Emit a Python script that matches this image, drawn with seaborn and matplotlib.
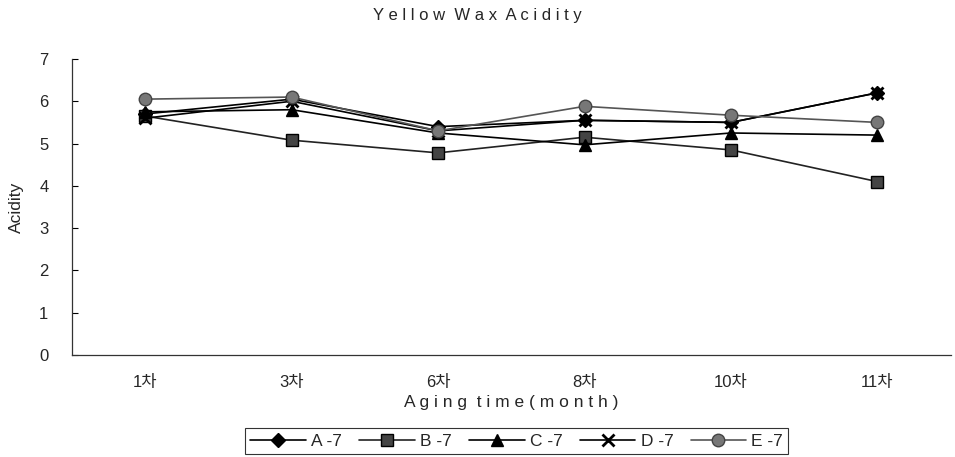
import matplotlib
matplotlib.use("Agg")
import matplotlib.pyplot as plt
import seaborn as sns
import pandas as pd
import numpy as np

categories = ["1차", "3차", "6차", "8차", "10차", "11차"]
a7 = [5.70, 6.05, 5.40, 5.55, 5.50, 6.20]
b7 = [5.65, 5.08, 4.78, 5.15, 4.85, 4.10]
c7 = [5.75, 5.80, 5.25, 4.97, 5.25, 5.20]
d7 = [5.60, 6.00, 5.30, 5.55, 5.50, 6.20]
e7 = [6.05, 6.10, 5.30, 5.88, 5.67, 5.50]
series_names = ["A-7", "B-7", "C-7", "D-7", "E-7"]
legend_labels = ["A -7", "B -7", "C -7", "D -7", "E -7"]

sns.set_theme(style="white")
plt.rcParams['font.family'] = ['Liberation Sans', 'Noto Sans CJK KR', 'DejaVu Sans']

rows = []
for name, vals in zip(series_names, [a7, b7, c7, d7, e7]):
    for i, v in enumerate(vals):
        rows.append({"x": i, "cat": categories[i], "series": name, "value": v})
df = pd.DataFrame(rows)

fig = plt.figure(figsize=(9.55, 4.57), dpi=100)
ax = fig.add_axes([0.0754, 0.223, 0.92, 0.648])

styles = {
    "A-7": dict(marker="D", color="black", mfc="black", mec="black", ms=7),
    "B-7": dict(marker="s", color="#222222", mfc="#444444", mec="black", ms=8),
    "C-7": dict(marker="^", color="black", mfc="black", mec="black", ms=9),
    "D-7": dict(marker="x", color="black", mfc="black", mec="black", ms=9, mew=2),
    "E-7": dict(marker="o", color="#555555", mfc="#777777", mec="#444444", ms=9),
}

handles = []
for name, lab in zip(series_names, legend_labels):
    sub = df[df.series == name]
    st = styles[name]
    sns.lineplot(data=sub, x="x", y="value", ax=ax, color=st["color"], lw=1.2,
                 marker=st["marker"], markersize=st["ms"],
                 markerfacecolor=st["mfc"], markeredgecolor=st["mec"],
                 markeredgewidth=st.get("mew", 1), label=lab, legend=False)
    handles.append(ax.lines[-1])

ax.set_xlim(-0.5, 5.5)
ax.set_ylim(0, 7)
ax.set_yticks(range(0, 8))
ax.set_yticklabels([str(i) for i in range(0, 8)], fontsize=12)
ax.set_xticks(range(len(categories)))
ax.set_xticklabels(categories, fontsize=12)
ax.set_xticks(np.arange(0.5, 5.5, 1.0), minor=True)
ax.tick_params(axis="x", which="major", length=0, pad=14)
ax.tick_params(axis="x", which="minor", direction="in", length=4, width=0.8, color="black")
ax.tick_params(axis="y", which="major", direction="in", length=4, width=0.8, color="black", left=True, pad=17)

for s in ["top", "right"]:
    ax.spines[s].set_visible(False)
for s in ["left", "bottom"]:
    ax.spines[s].set_color("#333333")
    ax.spines[s].set_linewidth(0.9)

ax.set_xlabel("A g i n g  t i m e ( m o n t h )", fontsize=12.5, labelpad=4)
ax.set_ylabel("Acidity", fontsize=12.5, labelpad=11)
fig.text(0.5, 0.965, "Y e l l o w  W a x  A c i d i t y", ha="center", va="center", fontsize=12)

leg = fig.legend(handles=handles, labels=legend_labels, loc="lower center",
                 bbox_to_anchor=(0.541, -0.012), ncol=5, frameon=True, fontsize=12.5,
                 handlelength=3.2, columnspacing=1.0, handletextpad=0.3,
                 borderpad=0.3, fancybox=False, edgecolor="black")
leg.get_frame().set_linewidth(0.8)

fig.savefig("out.png", dpi=100)
